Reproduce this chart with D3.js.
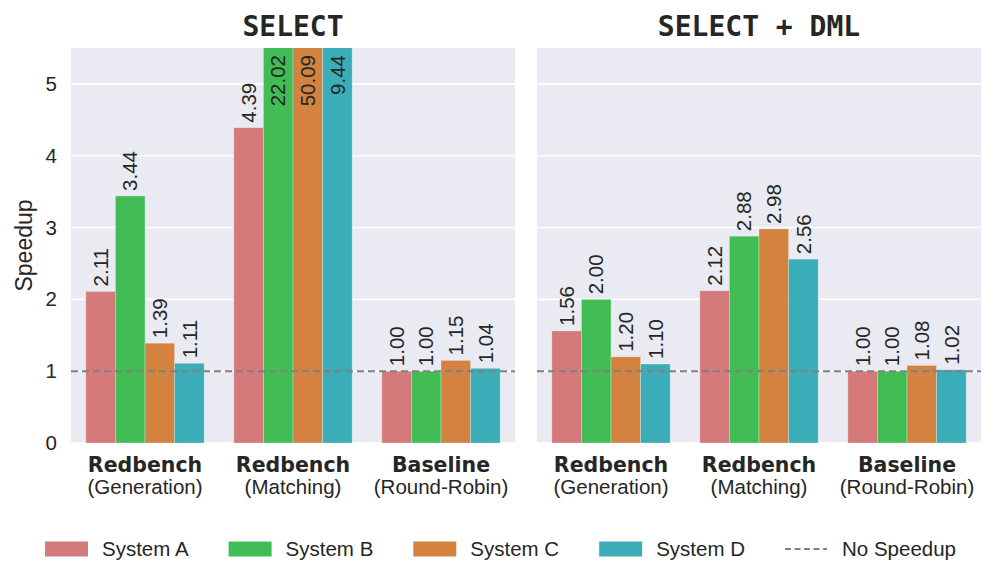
<!DOCTYPE html>
<html>
<head>
<meta charset="utf-8">
<script src="https://cdn.jsdelivr.net/npm/d3@7"></script>
<style>
  body { margin: 0; background: #fff; }
  text { font-family: "Liberation Sans", Arial, sans-serif; fill: #262626; }
</style>
</head>
<body>
<script>
const WIDTH = 996, HEIGHT = 583;
const TOP = 48, BOTTOM = 443;
const PANELS_X = [[71, 515], [537, 981]];
const FONT = '20.5px';

// data
var panelTitles = ['SELECT', 'SELECT + DML'];
var groupNames = ['Redbench', 'Redbench', 'Baseline'];
var groupSubs = ['(Generation)', '(Matching)', '(Round-Robin)'];
var systems = ['System A', 'System B', 'System C', 'System D'];
var colors = ['#d47a7a', '#42bd56', '#d3823f', '#3badb8'];
var selectValues = [[2.11, 3.44, 1.39, 1.11], [4.39, 22.02, 50.09, 9.44], [1.00, 1.00, 1.15, 1.04]];
var dmlValues = [[1.56, 2.00, 1.20, 1.10], [2.12, 2.88, 2.98, 2.56], [1.00, 1.00, 1.08, 1.02]];
var yTicks = [0, 1, 2, 3, 4, 5];
var yMax = 5.5;
var noSpeedup = 1;

var svg = d3.select('body').append('svg').attr('width', WIDTH).attr('height', HEIGHT);
var defs = svg.append('defs');

var yScale = d3.scaleLinear().domain([0, yMax]).range([BOTTOM, TOP]);

var drawPanel = function(idx, values) {
	var x0 = PANELS_X[idx][0], x1 = PANELS_X[idx][1];
	var xScale = d3.scaleBand().domain(d3.range(groupNames.length)).range([x0, x1]).paddingInner(0.2).paddingOuter(0.1);
	var xSub = d3.scaleBand().domain(d3.range(systems.length)).range([0, xScale.bandwidth()]);

	var g = svg.append('g').classed('panel', true);
	g.append('rect').attr('x', x0).attr('y', TOP).attr('width', x1 - x0).attr('height', BOTTOM - TOP).attr('fill', '#eaeaf2');

	g.append('g').selectAll('line').data(yTicks).enter().append('line')
		.attr('x1', x0).attr('x2', x1)
		.attr('y1', function(d){ return yScale(d); }).attr('y2', function(d){ return yScale(d); })
		.attr('stroke', '#fff').attr('stroke-width', 1.6);

	defs.append('clipPath').attr('id', 'clip' + idx).append('rect')
		.attr('x', x0).attr('y', TOP).attr('width', x1 - x0).attr('height', BOTTOM - TOP);

	var flat = [];
	values.forEach(function(row, gi){
		row.forEach(function(v, si){ flat.push({g: gi, s: si, v: v}); });
	});

	g.append('g').attr('clip-path', 'url(#clip' + idx + ')')
		.selectAll('rect').data(flat).enter().append('rect')
		.attr('x', function(d){ return xScale(d.g) + xSub(d.s); })
		.attr('width', xSub.bandwidth())
		.attr('y', function(d){ return yScale(Math.min(d.v, yMax + 1)); })
		.attr('height', function(d){ return BOTTOM - yScale(Math.min(d.v, yMax + 1)); })
		.attr('fill', function(d){ return colors[d.s]; })
		.attr('stroke', 'rgba(255,255,255,0.35)').attr('stroke-width', 0.8);

	g.append('g').selectAll('text').data(flat).enter().append('text')
		.attr('transform', function(d){
			var cx = xScale(d.g) + xSub(d.s) + xSub.bandwidth() / 2;
			var y = d.v > yMax ? TOP + 7 : yScale(d.v) - 5;
			return 'translate(' + cx + ',' + y + ') rotate(-90)';
		})
		.attr('dy', '0.35em')
		.attr('text-anchor', function(d){ return d.v > yMax ? 'end' : 'start'; })
		.style('font-size', FONT)
		.text(function(d){ return d.v.toFixed(2); });

	g.append('line')
		.attr('x1', x0).attr('x2', x1)
		.attr('y1', yScale(noSpeedup)).attr('y2', yScale(noSpeedup))
		.attr('stroke', '#808080').attr('stroke-width', 2).attr('stroke-dasharray', '7,4');

	var labels = g.append('g').selectAll('g').data(d3.range(groupNames.length)).enter().append('g')
		.attr('transform', function(d){ return 'translate(' + (xScale(d) + xScale.bandwidth() / 2) + ',0)'; });
	labels.append('text').attr('y', 472).attr('text-anchor', 'middle')
		.style('font-family', '"DejaVu Sans", sans-serif').style('font-weight', 'bold').style('font-size', FONT)
		.text(function(d){ return groupNames[d]; });
	labels.append('text').attr('y', 494).attr('text-anchor', 'middle')
		.style('font-size', FONT)
		.text(function(d){ return groupSubs[d]; });

	svg.append('text').attr('x', (x0 + x1) / 2).attr('y', 36).attr('text-anchor', 'middle')
		.style('font-family', '"DejaVu Sans Mono", monospace').style('font-weight', 'bold').style('font-size', '28px')
		.text(panelTitles[idx]);

	return xScale;
};

drawPanel(0, selectValues);
drawPanel(1, dmlValues);

// y axis (shared, left only)
var yAxis = d3.axisLeft(yScale).tickValues(yTicks).tickSize(0).tickPadding(14).tickFormat(d3.format('d'));
var ya = svg.append('g').attr('transform', 'translate(' + PANELS_X[0][0] + ',0)').call(yAxis);
ya.select('.domain').remove();
ya.selectAll('text').style('font-size', FONT).attr('fill', '#262626').style('font-family', '"Liberation Sans", Arial, sans-serif');

svg.append('text').attr('transform', 'translate(32,' + ((TOP + BOTTOM) / 2) + ') rotate(-90)')
	.attr('text-anchor', 'middle').style('font-size', '23px').text('Speedup');

// legend
var legendItems = systems.map(function(s, i){ return {label: s, color: colors[i], dash: false}; });
legendItems.push({label: 'No Speedup', color: '#808080', dash: true});
var legend = svg.append('g').classed('legend', true);
var lx = 45, ly = 549;
legendItems.forEach(function(item){
	var it = legend.append('g').attr('transform', 'translate(' + lx + ',' + ly + ')');
	if (item.dash) {
		it.append('line').attr('x1', 0).attr('x2', 42).attr('y1', 0).attr('y2', 0)
			.attr('stroke', item.color).attr('stroke-width', 2).attr('stroke-dasharray', '6,3.5');
	} else {
		it.append('rect').attr('x', 0).attr('y', -7.5).attr('width', 43).attr('height', 15).attr('fill', item.color);
	}
	var t = it.append('text').attr('x', 57).attr('dy', '0.35em').style('font-size', FONT).text(item.label);
	lx += 57 + t.node().getComputedTextLength() + 40;
});
</script>
</body>
</html>
